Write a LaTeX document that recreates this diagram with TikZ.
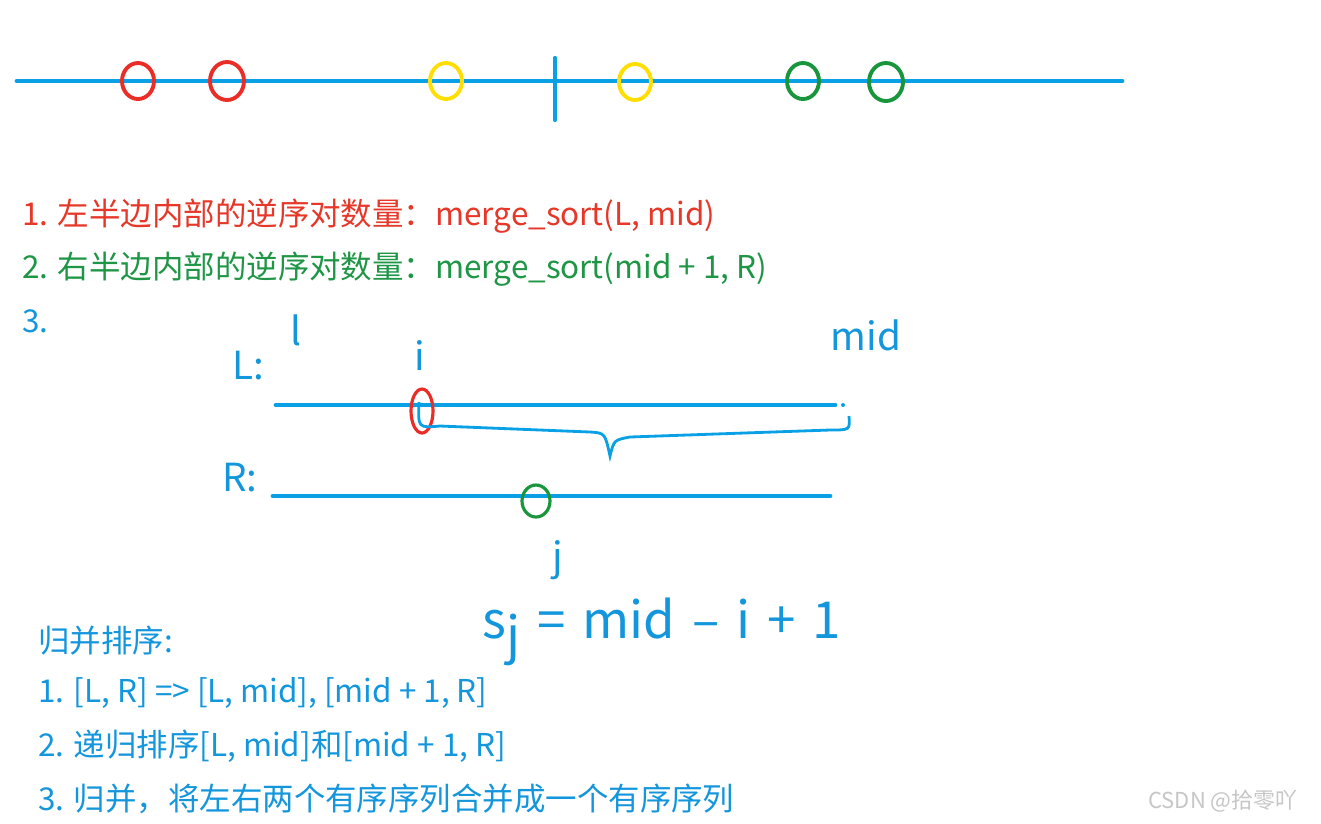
\documentclass[tikz,border=0pt]{standalone}
\usepackage{fontspec}
\setmainfont{Noto Sans CJK SC}
\definecolor{lineblue}{RGB}{10,160,230}
\definecolor{txtred}{RGB}{230,55,40}
\definecolor{txtgreen}{RGB}{30,150,70}
\definecolor{txtblue}{RGB}{20,150,220}
\definecolor{mark red}{RGB}{235,45,40}
\definecolor{mark yellow}{RGB}{255,222,0}
\definecolor{mark green}{RGB}{25,150,60}
\tikzset{
  axis/.style={lineblue,line width=2.8pt,line cap=round},
  ring/.style={line width=2.2pt},
  note/.style={anchor=west,inner sep=0pt,font=\fontsize{17.9pt}{20pt}\selectfont},
  hand/.style={txtblue,inner sep=0pt,font=\fontsize{22pt}{24pt}\selectfont}
}
\begin{document}
\begin{tikzpicture}[x=0.02cm,y=-0.02cm]
\useasboundingbox[fill=white] (0,0) rectangle (1321,823);

% number line with the split point
\coordinate (a0) at (17,81);
\coordinate (a1) at (1122,81);
\draw[axis] (a0) -- (a1);
\coordinate (t0) at (555,58);
\coordinate (t1) at (555,120);
\draw[lineblue,line width=2.4pt,line cap=round] (t0) -- (t1);

\draw[ring,mark red] (138,81) ellipse (16 and 18);
\draw[ring,mark red] (227,81) ellipse (17 and 19);
\draw[ring,mark yellow] (446,81) ellipse (16 and 18);
\draw[ring,mark yellow] (635,82) ellipse (16 and 18);
\draw[ring,mark green] (803,81) ellipse (16 and 18);
\draw[ring,mark green] (886,82) ellipse (17 and 19);

% the three counts
\node[note,txtred] (c1) at (22,216) {1. 左半边内部的逆序对数量：merge\_sort(L, mid)};
\node[note,txtgreen] (c2) at (22,269) {2. 右半边内部的逆序对数量：merge\_sort(mid + 1, R)};
\node[note,txtblue] (c3) at (22,321) {3.};

% left and right halves
\node[hand] (lab L) at (248,366) {L:};
\node[hand] (lab l) at (296,330) {l};
\node[hand] (lab i) at (420,356) {i};
\node[hand] (lab mid) at (866,335) {mid};
\coordinate (l0) at (276,405);
\coordinate (l1) at (835,405);
\draw[axis] (l0) -- (l1);
\fill[lineblue] (843,405) circle (2);
\draw[mark red,line width=1.8pt] (422,411) ellipse (11 and 22);
\draw[lineblue,line width=1.6pt] (419,402) .. controls (418,428) .. (440,426)
  -- (590,432) .. controls (605,433) .. (610,456) .. controls (614,440) .. (630,437)
  -- (830,430) .. controls (850,430) .. (849,416);

\node[hand] (lab R) at (240,478) {R:};
\coordinate (r0) at (273,496);
\coordinate (r1) at (830,496);
\draw[axis] (r0) -- (r1);
\draw[mark green,line width=1.8pt] (536,501) ellipse (14 and 16);
\node[hand] (lab j) at (558,560) {j};
\node[hand,anchor=west,font=\fontsize{29pt}{30pt}\selectfont] (formula) at (482,632)
  {s\raisebox{-0.3em}{j}\,\,=\,\,mid\,\,–\,\,i\,\,+\,\,1};

% merge sort steps
\node[note,txtblue] (m0) at (38,641) {归并排序:};
\node[note,txtblue] (m1) at (38,693) {1. [L, R] => [L, mid], [mid + 1, R]};
\node[note,txtblue] (m2) at (38,746) {2. 递归排序[L, mid]和[mid + 1, R]};
\node[note,txtblue] (m3) at (38,799) {3. 归并，将左右两个有序序列合并成一个有序序列};

\node[anchor=west,inner sep=0pt,gray!45,font=\fontsize{12.5pt}{14pt}\selectfont] (mark) at (1148,801) {CSDN @拾零吖};
\end{tikzpicture}
\end{document}
